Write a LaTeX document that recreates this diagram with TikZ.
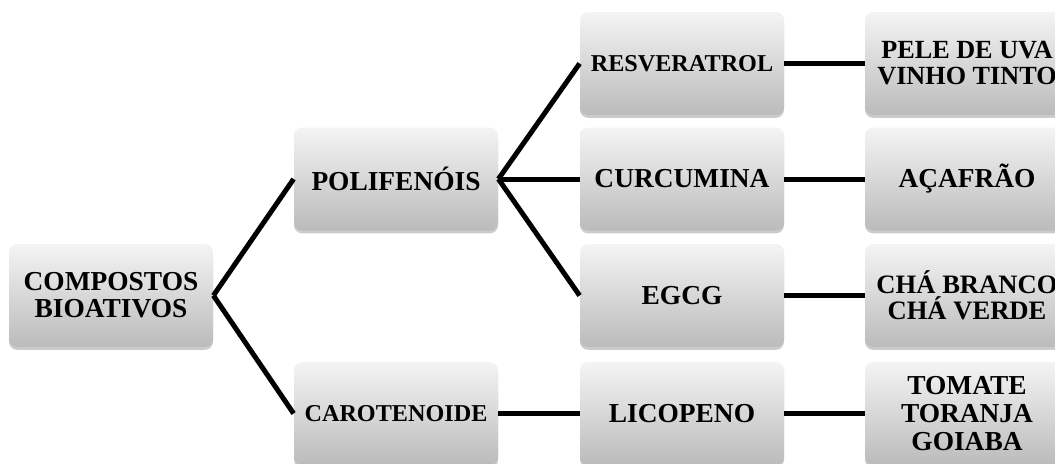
\documentclass[tikz,border=0pt]{standalone}
\usepackage{fontspec}
\setmainfont{Liberation Serif}
\usetikzlibrary{positioning,shadows}
\definecolor{cBoxTop}{HTML}{F4F4F4}
\definecolor{cBoxBot}{HTML}{BBBBBB}

\tikzset{
  box/.style={rounded corners=4pt,minimum width=102pt,minimum height=51.5pt,
              inner sep=2pt,align=center,top color=cBoxTop,bottom color=cBoxBot,
              drop shadow={shadow xshift=0pt,shadow yshift=-1.4pt,opacity=.4},
              font=\bfseries\fontsize{13.7}{13.5}\selectfont},
  smalltext/.style={font=\bfseries\fontsize{12.1}{13}\selectfont},
  link/.style={line width=2.5pt}
}

\begin{document}
\begin{tikzpicture}[x=0.5pt,y=-0.5pt]
        \useasboundingbox (0,0) rectangle (1055,463);
        % columns at x = 111, 396, 682, 967
        \node[box] (comp) at (111,295.5) {COMPOSTOS\\BIOATIVOS};
        \node[box] (poli) at (396,179) {POLIFENÓIS};
        \node[box,smalltext] (caro) at (396,413.5) {CAROTENOIDE};
        \node[box,smalltext] (resv) at (682,63.5) {RESVERATROL};
        \node[box] (curc) at (682,179) {CURCUMINA};
        \node[box] (egcg) at (682,295.5) {EGCG};
        \node[box] (lico) at (682,413.5) {LICOPENO};
        \node[box,font=\bfseries\fontsize{13.1}{13}\selectfont] (uva) at (967,63.5) {PELE DE UVA\\VINHO TINTO};
        \node[box] (acaf) at (967,179) {AÇAFRÃO};
        \node[box,font=\bfseries\fontsize{13.3}{13}\selectfont] (cha) at (967,295.5) {CHÁ BRANCO\\CHÁ VERDE};
        \node[box,font=\bfseries\fontsize{13.7}{14}\selectfont] (toma) at (967,413.5) {TOMATE\\TORANJA\\GOIABA};

        \draw[link] (comp.east) -- (poli.west);
        \draw[link] (comp.east) -- (caro.west);
        \draw[link] (poli.east) -- (resv.west);
        \draw[link] (poli.east) -- (curc.west);
        \draw[link] (poli.east) -- (egcg.west);
        \draw[link] (caro.east) -- (lico.west);
        \draw[link] (resv.east) -- (uva.west);
        \draw[link] (curc.east) -- (acaf.west);
        \draw[link] (egcg.east) -- (cha.west);
        \draw[link] (lico.east) -- (toma.west);
      \end{tikzpicture}
\end{document}
